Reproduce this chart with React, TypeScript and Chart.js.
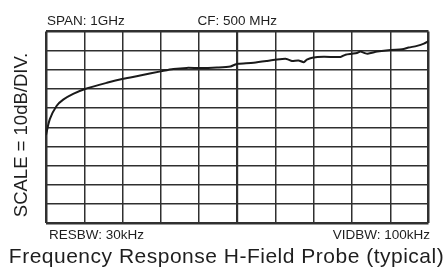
import { useEffect, useRef } from "react";
import { Chart, registerables } from "chart.js";

Chart.register(...registerables);

// Frequency in MHz (span 1 GHz, CF 500 MHz => 0..1000 MHz)
const freqMHz = [
  0, 10, 28, 45, 71, 102, 159, 202, 246, 303, 333, 368, 403, 447, 482, 495, 503,
  543, 578, 604, 626, 634, 643, 660, 674, 682, 696, 726, 770, 783, 800, 813, 822,
  832, 841, 866, 901, 931, 948, 970, 988, 1000,
];
// Relative level in dB (10 dB/div, top of screen = 0 dB)
const levelDb = [
  -54, -45.8, -38.8, -35.6, -32.6, -30, -26.8, -24.7, -23, -20.7, -19.6, -19,
  -19.1, -18.8, -18.3, -17.2, -16.8, -16.3, -15.4, -14.6, -14.2, -14.7, -15.4,
  -15.1, -16, -14.7, -13.7, -13.2, -13.3, -12.1, -11.6, -11.2, -10.5, -11.2,
  -11.6, -10.5, -9.6, -9.3, -8.4, -7.5, -6.3, -5,
];

const xRange = [0, 1000];
const xStep = 100;
const yRange = [-100, 0];
const yStep = 10;

const spanLabel = "SPAN: 1GHz";
const cfLabel = "CF: 500 MHz";
const resbwLabel = "RESBW: 30kHz";
const vidbwLabel = "VIDBW: 100kHz";
const scaleLabel = "SCALE = 10dB/DIV.";
const titleLabel = "Frequency Response H-Field Probe (typical)";

const FONT = '"Liberation Sans", Arial, Helvetica, sans-serif';

const textPlugin = {
  id: "analyzerText",
  afterDraw(chart: any) {
    const { ctx, chartArea: a } = chart;
    ctx.save();
    ctx.fillStyle = "#1e1e1e";
    ctx.textBaseline = "alphabetic";
    ctx.font = `13.5px ${FONT}`;
    ctx.textAlign = "left";
    ctx.fillText(spanLabel, a.left + 1, a.top - 6.5);
    ctx.textAlign = "center";
    ctx.fillText(cfLabel, (a.left + a.right) / 2, a.top - 6.5);
    ctx.textAlign = "left";
    ctx.fillText(resbwLabel, a.left + 3, a.bottom + 15.5);
    ctx.textAlign = "right";
    ctx.fillText(vidbwLabel, a.right + 1.5, a.bottom + 15.5);

    // rotated axis label
    ctx.save();
    ctx.translate(22, 135);
    ctx.rotate(-Math.PI / 2);
    ctx.textAlign = "center";
    ctx.textBaseline = "middle";
    ctx.font = `18.5px ${FONT}`;
    ctx.fillText(scaleLabel, 0, 0);
    ctx.restore();

    // bottom title
    ctx.font = `21px ${FONT}`;
    try {
      (ctx as any).letterSpacing = "0.5px";
    } catch (e) {}
    ctx.textAlign = "center";
    ctx.fillText(titleLabel, 226.5, 263);
    ctx.restore();
  },
};

export default function App() {
  const ref = useRef<HTMLCanvasElement | null>(null);

  useEffect(() => {
    document.body.style.margin = "0";
    const canvas = ref.current;
    if (!canvas) return;
    const gridWidth = (max: number, mid: number, min: number) => (c: any) => {
      const v = c.tick ? c.tick.value : 0;
      if (v === max || v === min) return 2.5;
      if (v === mid) return 2.2;
      return 1.5;
    };
    const chart = new Chart(canvas, {
      type: "line",
      data: {
        datasets: [
          {
            data: freqMHz.map((f, i) => ({ x: f, y: levelDb[i] })),
            borderColor: "#1a1a1a",
            borderWidth: 2,
            pointRadius: 0,
            tension: 0.25,
            fill: false,
          },
        ],
      },
      options: {
        responsive: false,
        animation: false,
        events: [],
        layout: { padding: { left: 46, top: 31.5, right: 15.5, bottom: 48 } },
        plugins: {
          legend: { display: false },
          tooltip: { enabled: false },
          title: { display: false },
        },
        scales: {
          x: {
            type: "linear",
            min: xRange[0],
            max: xRange[1],
            ticks: { display: false, stepSize: xStep },
            border: { display: false },
            grid: {
              drawTicks: false,
              color: "#303030",
              lineWidth: gridWidth(xRange[1], (xRange[0] + xRange[1]) / 2, xRange[0]),
            },
          },
          y: {
            type: "linear",
            min: yRange[0],
            max: yRange[1],
            ticks: { display: false, stepSize: yStep },
            border: { display: false },
            grid: {
              drawTicks: false,
              color: "#303030",
              lineWidth: gridWidth(yRange[1], 99999, yRange[0]),
            },
          },
        },
      },
      plugins: [textPlugin],
    });
    return () => chart.destroy();
  }, []);

  return (
    <div style={{ width: 444, height: 271, background: "#fff" }}>
      <canvas ref={ref} width={444} height={271} style={{ display: "block" }} />
    </div>
  );
}
